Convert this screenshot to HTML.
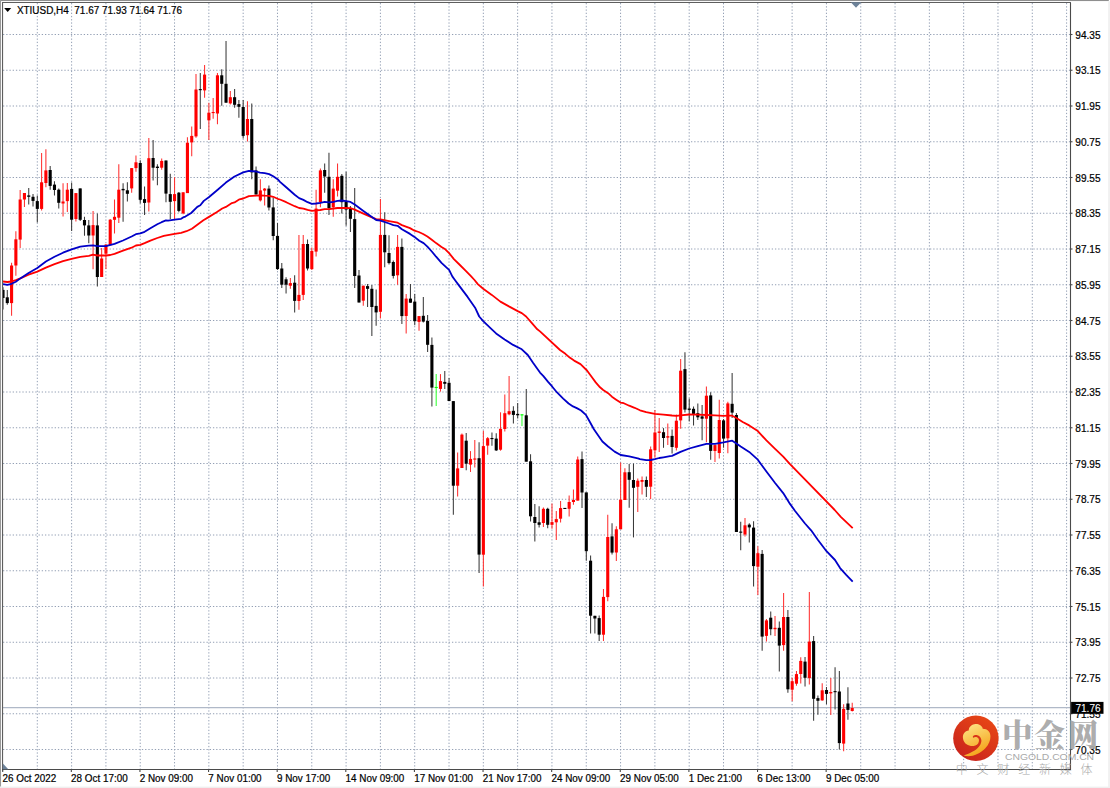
<!DOCTYPE html>
<html lang="en"><head><meta charset="utf-8"><title>XTIUSD,H4</title>
<style>html,body{margin:0;padding:0;background:#fff}body{width:1110px;height:788px;overflow:hidden;position:relative}svg{position:absolute;left:0;top:0;display:block}text{font-family:"Liberation Sans", sans-serif;font-size:10.1px;fill:#000;white-space:pre}.t{stroke:#000;stroke-width:.22px;paint-order:stroke}.cj{font-family:"Liberation Serif", "Noto Serif CJK SC", serif}.cs{font-family:"Liberation Sans", "Noto Sans CJK SC", sans-serif}</style></head><body>
<svg width="1110" height="788" viewBox="0 0 1110 788">
<rect x="0" y="0" width="1110" height="788" fill="#fff"/>
<g id="frame">
<rect x="0" y="0" width="1108.8" height="1.05" fill="#8f8f8f"/>
<rect x="0" y="0" width="1.05" height="786.7" fill="#999999"/>
<rect x="1108.1" y="1.3" width="1.9" height="786.7" fill="#f1f1f1"/>
<rect x="0" y="786.6" width="1110" height="1.4" fill="#efefef"/>
</g>
<g id="grid" stroke="#939fb4" stroke-width="1" stroke-dasharray="1.3 1.93" fill="none">
<path d="M37.30 3V769.5"/>
<path d="M71.61 3V769.5"/>
<path d="M105.92 3V769.5"/>
<path d="M140.23 3V769.5"/>
<path d="M174.54 3V769.5"/>
<path d="M208.85 3V769.5"/>
<path d="M243.16 3V769.5"/>
<path d="M277.47 3V769.5"/>
<path d="M311.78 3V769.5"/>
<path d="M346.09 3V769.5"/>
<path d="M380.40 3V769.5"/>
<path d="M414.71 3V769.5"/>
<path d="M449.02 3V769.5"/>
<path d="M483.33 3V769.5"/>
<path d="M517.64 3V769.5"/>
<path d="M551.95 3V769.5"/>
<path d="M586.26 3V769.5"/>
<path d="M620.57 3V769.5"/>
<path d="M654.88 3V769.5"/>
<path d="M689.19 3V769.5"/>
<path d="M723.50 3V769.5"/>
<path d="M757.81 3V769.5"/>
<path d="M792.12 3V769.5"/>
<path d="M826.43 3V769.5"/>
<path d="M860.74 3V769.5"/>
<path d="M895.05 3V769.5"/>
<path d="M929.36 3V769.5"/>
<path d="M963.67 3V769.5"/>
<path d="M997.98 3V769.5"/>
<path d="M1032.29 3V769.5"/>
<path d="M1066.60 3V769.5"/>
<path d="M3 34.50H1070.5"/>
<path d="M3 70.25H1070.5"/>
<path d="M3 106.00H1070.5"/>
<path d="M3 141.75H1070.5"/>
<path d="M3 177.50H1070.5"/>
<path d="M3 213.25H1070.5"/>
<path d="M3 249.00H1070.5"/>
<path d="M3 284.75H1070.5"/>
<path d="M3 320.50H1070.5"/>
<path d="M3 356.25H1070.5"/>
<path d="M3 392.00H1070.5"/>
<path d="M3 427.75H1070.5"/>
<path d="M3 463.50H1070.5"/>
<path d="M3 499.25H1070.5"/>
<path d="M3 535.00H1070.5"/>
<path d="M3 570.75H1070.5"/>
<path d="M3 606.50H1070.5"/>
<path d="M3 642.25H1070.5"/>
<path d="M3 678.00H1070.5"/>
<path d="M3 713.75H1070.5"/>
<path d="M3 749.50H1070.5"/>
</g>
<path d="M3 707.5H1070.5" stroke="#b0b9c8" stroke-width="1.25" fill="none"/>
<clipPath id="cp"><rect x="3" y="3" width="1067.5" height="766.5"/></clipPath>
<g id="candles" clip-path="url(#cp)">
<path d="M3.00 287.2V309.5" stroke="#3a3a3a" stroke-width="1.05"/>
<rect x="1.45" y="289.9" width="3.1" height="8.1" fill="#000000"/>
<path d="M7.29 289.9V304.7" stroke="#3a3a3a" stroke-width="1.05"/>
<rect x="5.74" y="297.3" width="3.1" height="5.8" fill="#000000"/>
<path d="M11.58 262.8V315.8" stroke="#ff3030" stroke-width="1.05"/>
<rect x="10.03" y="265.5" width="3.1" height="37.6" fill="#ff0000"/>
<path d="M15.87 231.2V275.7" stroke="#ff3030" stroke-width="1.05"/>
<rect x="14.32" y="239.3" width="3.1" height="26.2" fill="#ff0000"/>
<path d="M20.16 190.0V248.0" stroke="#ff3030" stroke-width="1.05"/>
<rect x="18.61" y="199.5" width="3.1" height="40.1" fill="#ff0000"/>
<path d="M24.45 193.0V206.9" stroke="#ff3030" stroke-width="1.05"/>
<rect x="22.89" y="193.0" width="3.1" height="6.5" fill="#ff0000"/>
<path d="M28.73 188.0V204.6" stroke="#3a3a3a" stroke-width="1.05"/>
<rect x="27.18" y="195.4" width="3.1" height="1.4" fill="#000000"/>
<path d="M33.02 194.1V206.5" stroke="#3a3a3a" stroke-width="1.05"/>
<rect x="31.47" y="196.8" width="3.1" height="4.1" fill="#000000"/>
<path d="M37.31 195.4V222.4" stroke="#3a3a3a" stroke-width="1.05"/>
<rect x="35.76" y="201.1" width="3.1" height="7.8" fill="#000000"/>
<path d="M41.60 153.1V210.5" stroke="#ff3030" stroke-width="1.05"/>
<rect x="40.05" y="182.3" width="3.1" height="26.6" fill="#ff0000"/>
<path d="M45.89 149.2V187.3" stroke="#ff3030" stroke-width="1.05"/>
<rect x="44.34" y="170.4" width="3.1" height="12.6" fill="#ff0000"/>
<path d="M50.18 166.1V189.7" stroke="#3a3a3a" stroke-width="1.05"/>
<rect x="48.63" y="170.0" width="3.1" height="15.9" fill="#000000"/>
<path d="M54.47 181.2V195.4" stroke="#3a3a3a" stroke-width="1.05"/>
<rect x="52.92" y="184.6" width="3.1" height="5.4" fill="#000000"/>
<path d="M58.76 188.4V208.6" stroke="#3a3a3a" stroke-width="1.05"/>
<rect x="57.21" y="189.7" width="3.1" height="13.1" fill="#000000"/>
<path d="M63.05 183.2V216.4" stroke="#ff3030" stroke-width="1.05"/>
<rect x="61.50" y="201.5" width="3.1" height="2.0" fill="#ff0000"/>
<path d="M67.33 183.0V211.9" stroke="#ff3030" stroke-width="1.05"/>
<rect x="65.78" y="189.7" width="3.1" height="11.4" fill="#ff0000"/>
<path d="M71.62 182.6V231.1" stroke="#3a3a3a" stroke-width="1.05"/>
<rect x="70.07" y="188.9" width="3.1" height="30.8" fill="#000000"/>
<path d="M75.91 193.1V221.5" stroke="#ff3030" stroke-width="1.05"/>
<rect x="74.36" y="193.1" width="3.1" height="25.9" fill="#ff0000"/>
<path d="M80.20 188.4V221.1" stroke="#3a3a3a" stroke-width="1.05"/>
<rect x="78.65" y="188.4" width="3.1" height="31.4" fill="#000000"/>
<path d="M84.49 216.8V235.8" stroke="#3a3a3a" stroke-width="1.05"/>
<rect x="82.94" y="220.0" width="3.1" height="5.4" fill="#000000"/>
<path d="M88.78 220.0V243.2" stroke="#3a3a3a" stroke-width="1.05"/>
<rect x="87.23" y="225.4" width="3.1" height="10.1" fill="#000000"/>
<path d="M93.07 210.9V269.3" stroke="#ff3030" stroke-width="1.05"/>
<rect x="91.52" y="225.1" width="3.1" height="10.4" fill="#ff0000"/>
<path d="M97.36 213.6V286.5" stroke="#3a3a3a" stroke-width="1.05"/>
<rect x="95.81" y="225.4" width="3.1" height="51.6" fill="#000000"/>
<path d="M101.65 248.0V277.0" stroke="#ff3030" stroke-width="1.05"/>
<rect x="100.10" y="258.5" width="3.1" height="18.5" fill="#ff0000"/>
<path d="M105.94 243.9V268.9" stroke="#ff3030" stroke-width="1.05"/>
<rect x="104.39" y="244.6" width="3.1" height="9.1" fill="#ff0000"/>
<path d="M110.22 219.1V245.3" stroke="#ff3030" stroke-width="1.05"/>
<rect x="108.67" y="219.7" width="3.1" height="25.5" fill="#ff0000"/>
<path d="M114.51 199.5V233.4" stroke="#ff3030" stroke-width="1.05"/>
<rect x="112.96" y="216.8" width="3.1" height="3.0" fill="#ff0000"/>
<path d="M118.80 164.3V223.1" stroke="#ff3030" stroke-width="1.05"/>
<rect x="117.25" y="189.7" width="3.1" height="28.0" fill="#ff0000"/>
<path d="M123.09 183.2V221.8" stroke="#3a3a3a" stroke-width="1.05"/>
<rect x="121.54" y="188.9" width="3.1" height="1.4" fill="#000000"/>
<path d="M127.38 182.2V201.5" stroke="#3a3a3a" stroke-width="1.05"/>
<rect x="125.83" y="190.3" width="3.1" height="3.5" fill="#000000"/>
<path d="M131.67 168.1V192.7" stroke="#ff3030" stroke-width="1.05"/>
<rect x="130.12" y="168.1" width="3.1" height="20.3" fill="#ff0000"/>
<path d="M135.96 155.4V171.8" stroke="#ff3030" stroke-width="1.05"/>
<rect x="134.41" y="162.3" width="3.1" height="5.8" fill="#ff0000"/>
<path d="M140.25 160.3V203.5" stroke="#3a3a3a" stroke-width="1.05"/>
<rect x="138.70" y="163.0" width="3.1" height="36.8" fill="#000000"/>
<path d="M144.54 186.6V215.0" stroke="#3a3a3a" stroke-width="1.05"/>
<rect x="142.99" y="199.1" width="3.1" height="3.8" fill="#000000"/>
<path d="M148.83 138.0V211.6" stroke="#ff3030" stroke-width="1.05"/>
<rect x="147.28" y="158.2" width="3.1" height="44.3" fill="#ff0000"/>
<path d="M153.11 140.0V180.5" stroke="#3a3a3a" stroke-width="1.05"/>
<rect x="151.56" y="158.0" width="3.1" height="9.7" fill="#000000"/>
<path d="M157.40 164.3V185.3" stroke="#3a3a3a" stroke-width="1.05"/>
<rect x="155.85" y="166.6" width="3.1" height="1.4" fill="#000000"/>
<path d="M161.69 158.5V169.7" stroke="#ff3030" stroke-width="1.05"/>
<rect x="160.14" y="160.9" width="3.1" height="6.8" fill="#ff0000"/>
<path d="M165.98 160.5V202.2" stroke="#3a3a3a" stroke-width="1.05"/>
<rect x="164.43" y="160.5" width="3.1" height="33.1" fill="#000000"/>
<path d="M170.27 173.8V219.1" stroke="#3a3a3a" stroke-width="1.05"/>
<rect x="168.72" y="194.1" width="3.1" height="7.7" fill="#000000"/>
<path d="M174.56 177.2V219.1" stroke="#ff3030" stroke-width="1.05"/>
<rect x="173.01" y="194.1" width="3.1" height="7.0" fill="#ff0000"/>
<path d="M178.85 192.0V212.3" stroke="#3a3a3a" stroke-width="1.05"/>
<rect x="177.30" y="192.7" width="3.1" height="18.2" fill="#000000"/>
<path d="M183.14 192.3V214.3" stroke="#ff3030" stroke-width="1.05"/>
<rect x="181.59" y="192.3" width="3.1" height="21.1" fill="#ff0000"/>
<path d="M187.43 137.3V193.1" stroke="#ff3030" stroke-width="1.05"/>
<rect x="185.88" y="142.7" width="3.1" height="50.4" fill="#ff0000"/>
<path d="M191.72 126.4V156.2" stroke="#ff3030" stroke-width="1.05"/>
<rect x="190.17" y="135.9" width="3.1" height="6.5" fill="#ff0000"/>
<path d="M196.00 73.9V137.7" stroke="#ff3030" stroke-width="1.05"/>
<rect x="194.45" y="89.5" width="3.1" height="46.9" fill="#ff0000"/>
<path d="M200.29 73.0V128.9" stroke="#3a3a3a" stroke-width="1.05"/>
<rect x="198.74" y="89.1" width="3.1" height="1.1" fill="#000000"/>
<path d="M204.58 64.9V97.8" stroke="#ff3030" stroke-width="1.05"/>
<rect x="203.03" y="74.6" width="3.1" height="15.8" fill="#ff0000"/>
<path d="M208.87 102.7V140.0" stroke="#ff3030" stroke-width="1.05"/>
<rect x="207.32" y="112.7" width="3.1" height="7.6" fill="#ff0000"/>
<path d="M213.16 98.0V118.8" stroke="#ff3030" stroke-width="1.05"/>
<rect x="211.61" y="112.0" width="3.1" height="1.1" fill="#ff0000"/>
<path d="M217.45 73.0V124.2" stroke="#ff3030" stroke-width="1.05"/>
<rect x="215.90" y="75.3" width="3.1" height="38.2" fill="#ff0000"/>
<path d="M221.74 69.2V105.7" stroke="#3a3a3a" stroke-width="1.05"/>
<rect x="220.19" y="75.3" width="3.1" height="8.5" fill="#000000"/>
<path d="M226.03 41.1V102.7" stroke="#3a3a3a" stroke-width="1.05"/>
<rect x="224.48" y="83.8" width="3.1" height="18.9" fill="#000000"/>
<path d="M230.32 91.1V104.6" stroke="#ff3030" stroke-width="1.05"/>
<rect x="228.77" y="97.2" width="3.1" height="6.2" fill="#ff0000"/>
<path d="M234.61 89.1V107.7" stroke="#3a3a3a" stroke-width="1.05"/>
<rect x="233.06" y="97.2" width="3.1" height="7.6" fill="#000000"/>
<path d="M238.89 100.0V117.8" stroke="#3a3a3a" stroke-width="1.05"/>
<rect x="237.34" y="104.1" width="3.1" height="2.7" fill="#000000"/>
<path d="M243.18 100.0V138.6" stroke="#3a3a3a" stroke-width="1.05"/>
<rect x="241.63" y="107.0" width="3.1" height="28.9" fill="#000000"/>
<path d="M247.47 101.2V141.4" stroke="#ff3030" stroke-width="1.05"/>
<rect x="245.92" y="119.0" width="3.1" height="16.2" fill="#ff0000"/>
<path d="M251.76 103.6V179.2" stroke="#3a3a3a" stroke-width="1.05"/>
<rect x="250.21" y="119.0" width="3.1" height="53.4" fill="#000000"/>
<path d="M256.05 166.4V194.5" stroke="#3a3a3a" stroke-width="1.05"/>
<rect x="254.50" y="170.4" width="3.1" height="24.1" fill="#000000"/>
<path d="M260.34 179.2V201.5" stroke="#ff3030" stroke-width="1.05"/>
<rect x="258.79" y="190.4" width="3.1" height="10.0" fill="#ff0000"/>
<path d="M264.63 188.0V205.5" stroke="#ff3030" stroke-width="1.05"/>
<rect x="263.08" y="188.6" width="3.1" height="2.0" fill="#ff0000"/>
<path d="M268.92 185.5V210.4" stroke="#3a3a3a" stroke-width="1.05"/>
<rect x="267.37" y="188.6" width="3.1" height="18.9" fill="#000000"/>
<path d="M273.21 197.8V240.2" stroke="#3a3a3a" stroke-width="1.05"/>
<rect x="271.66" y="207.4" width="3.1" height="28.6" fill="#000000"/>
<path d="M277.50 223.1V269.9" stroke="#3a3a3a" stroke-width="1.05"/>
<rect x="275.95" y="235.9" width="3.1" height="33.2" fill="#000000"/>
<path d="M281.78 263.1V288.1" stroke="#3a3a3a" stroke-width="1.05"/>
<rect x="280.23" y="268.5" width="3.1" height="16.2" fill="#000000"/>
<path d="M286.07 277.3V293.5" stroke="#3a3a3a" stroke-width="1.05"/>
<rect x="284.52" y="279.3" width="3.1" height="5.4" fill="#000000"/>
<path d="M290.36 278.0V288.8" stroke="#ff3030" stroke-width="1.05"/>
<rect x="288.81" y="283.1" width="3.1" height="2.6" fill="#ff0000"/>
<path d="M294.65 275.3V312.4" stroke="#3a3a3a" stroke-width="1.05"/>
<rect x="293.10" y="282.7" width="3.1" height="18.2" fill="#000000"/>
<path d="M298.94 234.9V309.7" stroke="#ff3030" stroke-width="1.05"/>
<rect x="297.39" y="294.9" width="3.1" height="6.1" fill="#ff0000"/>
<path d="M303.23 234.9V300.0" stroke="#ff3030" stroke-width="1.05"/>
<rect x="301.68" y="244.0" width="3.1" height="50.9" fill="#ff0000"/>
<path d="M307.52 239.6V270.5" stroke="#3a3a3a" stroke-width="1.05"/>
<rect x="305.97" y="244.0" width="3.1" height="24.5" fill="#000000"/>
<path d="M311.81 247.6V269.9" stroke="#ff3030" stroke-width="1.05"/>
<rect x="310.26" y="250.9" width="3.1" height="18.2" fill="#ff0000"/>
<path d="M316.10 189.7V256.4" stroke="#ff3030" stroke-width="1.05"/>
<rect x="314.55" y="208.6" width="3.1" height="43.0" fill="#ff0000"/>
<path d="M320.39 168.6V207.2" stroke="#ff3030" stroke-width="1.05"/>
<rect x="318.84" y="170.4" width="3.1" height="32.0" fill="#ff0000"/>
<path d="M324.67 163.6V192.7" stroke="#3a3a3a" stroke-width="1.05"/>
<rect x="323.12" y="170.0" width="3.1" height="6.5" fill="#000000"/>
<path d="M328.96 152.8V215.0" stroke="#3a3a3a" stroke-width="1.05"/>
<rect x="327.41" y="176.8" width="3.1" height="31.2" fill="#000000"/>
<path d="M333.25 179.2V216.8" stroke="#ff3030" stroke-width="1.05"/>
<rect x="331.70" y="188.6" width="3.1" height="18.5" fill="#ff0000"/>
<path d="M337.54 163.4V196.5" stroke="#ff3030" stroke-width="1.05"/>
<rect x="335.99" y="176.8" width="3.1" height="13.9" fill="#ff0000"/>
<path d="M341.83 174.1V213.6" stroke="#3a3a3a" stroke-width="1.05"/>
<rect x="340.28" y="175.8" width="3.1" height="26.4" fill="#000000"/>
<path d="M346.12 171.8V225.8" stroke="#3a3a3a" stroke-width="1.05"/>
<rect x="344.57" y="201.1" width="3.1" height="8.5" fill="#000000"/>
<path d="M350.41 205.9V231.9" stroke="#3a3a3a" stroke-width="1.05"/>
<rect x="348.86" y="208.9" width="3.1" height="9.9" fill="#000000"/>
<path d="M354.70 188.0V288.1" stroke="#3a3a3a" stroke-width="1.05"/>
<rect x="353.15" y="219.1" width="3.1" height="56.9" fill="#000000"/>
<path d="M358.99 270.1V302.6" stroke="#3a3a3a" stroke-width="1.05"/>
<rect x="357.44" y="275.5" width="3.1" height="27.0" fill="#000000"/>
<path d="M363.28 285.7V305.7" stroke="#ff3030" stroke-width="1.05"/>
<rect x="361.73" y="285.7" width="3.1" height="15.0" fill="#ff0000"/>
<path d="M367.56 284.1V307.0" stroke="#3a3a3a" stroke-width="1.05"/>
<rect x="366.01" y="286.1" width="3.1" height="2.7" fill="#000000"/>
<path d="M371.85 285.1V335.9" stroke="#3a3a3a" stroke-width="1.05"/>
<rect x="370.30" y="288.8" width="3.1" height="18.2" fill="#000000"/>
<path d="M376.14 289.5V325.7" stroke="#3a3a3a" stroke-width="1.05"/>
<rect x="374.59" y="305.9" width="3.1" height="6.5" fill="#000000"/>
<path d="M380.43 199.1V318.5" stroke="#ff3030" stroke-width="1.05"/>
<rect x="378.88" y="234.9" width="3.1" height="76.9" fill="#ff0000"/>
<path d="M384.72 212.3V267.2" stroke="#3a3a3a" stroke-width="1.05"/>
<rect x="383.17" y="234.9" width="3.1" height="17.4" fill="#000000"/>
<path d="M389.01 235.2V264.5" stroke="#3a3a3a" stroke-width="1.05"/>
<rect x="387.46" y="253.0" width="3.1" height="10.1" fill="#000000"/>
<path d="M393.30 260.4V278.6" stroke="#3a3a3a" stroke-width="1.05"/>
<rect x="391.75" y="262.0" width="3.1" height="13.9" fill="#000000"/>
<path d="M397.59 234.9V284.7" stroke="#ff3030" stroke-width="1.05"/>
<rect x="396.04" y="246.9" width="3.1" height="28.4" fill="#ff0000"/>
<path d="M401.88 238.5V323.9" stroke="#3a3a3a" stroke-width="1.05"/>
<rect x="400.33" y="246.9" width="3.1" height="69.2" fill="#000000"/>
<path d="M406.17 293.9V333.4" stroke="#ff3030" stroke-width="1.05"/>
<rect x="404.62" y="298.6" width="3.1" height="17.4" fill="#ff0000"/>
<path d="M410.45 284.1V302.7" stroke="#3a3a3a" stroke-width="1.05"/>
<rect x="408.90" y="298.6" width="3.1" height="4.1" fill="#000000"/>
<path d="M414.74 293.9V325.3" stroke="#3a3a3a" stroke-width="1.05"/>
<rect x="413.19" y="301.6" width="3.1" height="19.6" fill="#000000"/>
<path d="M419.03 316.1V330.7" stroke="#ff3030" stroke-width="1.05"/>
<rect x="417.48" y="316.1" width="3.1" height="5.8" fill="#ff0000"/>
<path d="M423.32 296.9V322.6" stroke="#3a3a3a" stroke-width="1.05"/>
<rect x="421.77" y="315.8" width="3.1" height="5.8" fill="#000000"/>
<path d="M427.61 314.9V351.9" stroke="#3a3a3a" stroke-width="1.05"/>
<rect x="426.06" y="320.9" width="3.1" height="23.9" fill="#000000"/>
<path d="M431.90 337.4V406.5" stroke="#3a3a3a" stroke-width="1.05"/>
<rect x="430.35" y="344.9" width="3.1" height="42.7" fill="#000000"/>
<path d="M436.19 374.1V406.1" stroke="#30ff30" stroke-width="1.05"/>
<rect x="434.64" y="386.9" width="3.1" height="1.1" fill="#00ff00"/>
<path d="M440.48 374.1V391.6" stroke="#ff3030" stroke-width="1.05"/>
<rect x="438.93" y="381.1" width="3.1" height="7.8" fill="#ff0000"/>
<path d="M444.77 371.1V388.9" stroke="#3a3a3a" stroke-width="1.05"/>
<rect x="443.22" y="381.9" width="3.1" height="1.9" fill="#000000"/>
<path d="M449.06 378.1V401.1" stroke="#3a3a3a" stroke-width="1.05"/>
<rect x="447.51" y="382.8" width="3.1" height="18.2" fill="#000000"/>
<path d="M453.34 401.1V514.7" stroke="#3a3a3a" stroke-width="1.05"/>
<rect x="451.79" y="401.1" width="3.1" height="84.6" fill="#000000"/>
<path d="M457.63 452.4V496.5" stroke="#ff3030" stroke-width="1.05"/>
<rect x="456.08" y="468.4" width="3.1" height="17.3" fill="#ff0000"/>
<path d="M461.92 433.5V468.0" stroke="#ff3030" stroke-width="1.05"/>
<rect x="460.37" y="434.6" width="3.1" height="33.4" fill="#ff0000"/>
<path d="M466.21 433.1V470.3" stroke="#3a3a3a" stroke-width="1.05"/>
<rect x="464.66" y="440.7" width="3.1" height="23.0" fill="#000000"/>
<path d="M470.50 451.1V472.0" stroke="#ff3030" stroke-width="1.05"/>
<rect x="468.95" y="458.9" width="3.1" height="5.7" fill="#ff0000"/>
<path d="M474.79 440.0V467.6" stroke="#ff3030" stroke-width="1.05"/>
<rect x="473.24" y="458.5" width="3.1" height="1.1" fill="#ff0000"/>
<path d="M479.08 442.3V573.0" stroke="#3a3a3a" stroke-width="1.05"/>
<rect x="477.53" y="458.2" width="3.1" height="96.4" fill="#000000"/>
<path d="M483.37 430.8V586.5" stroke="#ff3030" stroke-width="1.05"/>
<rect x="481.82" y="446.1" width="3.1" height="108.6" fill="#ff0000"/>
<path d="M487.66 436.9V454.7" stroke="#ff3030" stroke-width="1.05"/>
<rect x="486.11" y="438.2" width="3.1" height="7.4" fill="#ff0000"/>
<path d="M491.95 432.6V445.7" stroke="#3a3a3a" stroke-width="1.05"/>
<rect x="490.40" y="438.0" width="3.1" height="1.1" fill="#000000"/>
<path d="M496.23 433.2V451.1" stroke="#3a3a3a" stroke-width="1.05"/>
<rect x="494.68" y="438.6" width="3.1" height="11.8" fill="#000000"/>
<path d="M500.52 412.3V450.7" stroke="#ff3030" stroke-width="1.05"/>
<rect x="498.97" y="428.8" width="3.1" height="20.9" fill="#ff0000"/>
<path d="M504.81 394.6V431.5" stroke="#ff3030" stroke-width="1.05"/>
<rect x="503.26" y="413.2" width="3.1" height="15.8" fill="#ff0000"/>
<path d="M509.10 376.1V415.3" stroke="#ff3030" stroke-width="1.05"/>
<rect x="507.55" y="411.2" width="3.1" height="3.1" fill="#ff0000"/>
<path d="M513.39 406.2V423.4" stroke="#3a3a3a" stroke-width="1.05"/>
<rect x="511.84" y="410.8" width="3.1" height="4.1" fill="#000000"/>
<path d="M517.68 403.1V418.4" stroke="#3a3a3a" stroke-width="1.05"/>
<rect x="516.13" y="413.9" width="3.1" height="1.4" fill="#000000"/>
<path d="M521.97 414.3V426.1" stroke="#30ff30" stroke-width="1.05"/>
<rect x="520.42" y="414.3" width="3.1" height="1.1" fill="#00ff00"/>
<path d="M526.26 388.9V461.6" stroke="#3a3a3a" stroke-width="1.05"/>
<rect x="524.71" y="415.3" width="3.1" height="46.4" fill="#000000"/>
<path d="M530.55 454.2V521.4" stroke="#3a3a3a" stroke-width="1.05"/>
<rect x="529.00" y="461.3" width="3.1" height="55.0" fill="#000000"/>
<path d="M534.84 504.0V541.6" stroke="#3a3a3a" stroke-width="1.05"/>
<rect x="533.29" y="517.0" width="3.1" height="6.0" fill="#000000"/>
<path d="M539.12 506.2V527.5" stroke="#3a3a3a" stroke-width="1.05"/>
<rect x="537.58" y="522.3" width="3.1" height="2.5" fill="#000000"/>
<path d="M543.41 507.4V527.0" stroke="#ff3030" stroke-width="1.05"/>
<rect x="541.86" y="508.8" width="3.1" height="14.2" fill="#ff0000"/>
<path d="M547.70 507.8V528.2" stroke="#3a3a3a" stroke-width="1.05"/>
<rect x="546.15" y="508.8" width="3.1" height="16.0" fill="#000000"/>
<path d="M551.99 503.5V528.7" stroke="#ff3030" stroke-width="1.05"/>
<rect x="550.44" y="522.1" width="3.1" height="2.7" fill="#ff0000"/>
<path d="M556.28 511.1V540.1" stroke="#ff3030" stroke-width="1.05"/>
<rect x="554.73" y="519.1" width="3.1" height="3.2" fill="#ff0000"/>
<path d="M560.57 501.1V522.6" stroke="#ff3030" stroke-width="1.05"/>
<rect x="559.02" y="508.1" width="3.1" height="10.6" fill="#ff0000"/>
<path d="M564.86 507.9V509.0" stroke="#3a3a3a" stroke-width="1.05"/>
<rect x="563.31" y="507.9" width="3.1" height="1.1" fill="#000000"/>
<path d="M569.15 495.5V516.5" stroke="#ff3030" stroke-width="1.05"/>
<rect x="567.60" y="502.0" width="3.1" height="6.8" fill="#ff0000"/>
<path d="M573.44 489.5V504.7" stroke="#ff3030" stroke-width="1.05"/>
<rect x="571.89" y="500.0" width="3.1" height="2.0" fill="#ff0000"/>
<path d="M577.73 456.4V500.5" stroke="#ff3030" stroke-width="1.05"/>
<rect x="576.18" y="459.5" width="3.1" height="41.1" fill="#ff0000"/>
<path d="M582.01 451.4V508.1" stroke="#3a3a3a" stroke-width="1.05"/>
<rect x="580.47" y="459.1" width="3.1" height="33.4" fill="#000000"/>
<path d="M586.30 492.4V560.7" stroke="#3a3a3a" stroke-width="1.05"/>
<rect x="584.75" y="492.4" width="3.1" height="58.8" fill="#000000"/>
<path d="M590.59 555.5V633.6" stroke="#3a3a3a" stroke-width="1.05"/>
<rect x="589.04" y="560.7" width="3.1" height="55.0" fill="#000000"/>
<path d="M594.88 615.8V633.4" stroke="#3a3a3a" stroke-width="1.05"/>
<rect x="593.33" y="615.8" width="3.1" height="2.7" fill="#000000"/>
<path d="M599.17 615.4V640.9" stroke="#3a3a3a" stroke-width="1.05"/>
<rect x="597.62" y="618.1" width="3.1" height="16.6" fill="#000000"/>
<path d="M603.46 589.1V640.9" stroke="#ff3030" stroke-width="1.05"/>
<rect x="601.91" y="596.9" width="3.1" height="37.8" fill="#ff0000"/>
<path d="M607.75 514.7V601.2" stroke="#ff3030" stroke-width="1.05"/>
<rect x="606.20" y="537.0" width="3.1" height="60.1" fill="#ff0000"/>
<path d="M612.04 523.2V554.6" stroke="#3a3a3a" stroke-width="1.05"/>
<rect x="610.49" y="536.4" width="3.1" height="16.2" fill="#000000"/>
<path d="M616.33 526.2V560.9" stroke="#ff3030" stroke-width="1.05"/>
<rect x="614.78" y="529.3" width="3.1" height="23.2" fill="#ff0000"/>
<path d="M620.62 462.4V529.3" stroke="#ff3030" stroke-width="1.05"/>
<rect x="619.07" y="499.6" width="3.1" height="29.7" fill="#ff0000"/>
<path d="M624.90 468.2V500.0" stroke="#ff3030" stroke-width="1.05"/>
<rect x="623.36" y="472.3" width="3.1" height="27.7" fill="#ff0000"/>
<path d="M629.19 464.1V507.7" stroke="#3a3a3a" stroke-width="1.05"/>
<rect x="627.64" y="472.2" width="3.1" height="7.6" fill="#000000"/>
<path d="M633.48 463.5V537.4" stroke="#3a3a3a" stroke-width="1.05"/>
<rect x="631.93" y="480.0" width="3.1" height="7.8" fill="#000000"/>
<path d="M637.77 478.6V512.0" stroke="#ff3030" stroke-width="1.05"/>
<rect x="636.22" y="480.7" width="3.1" height="6.1" fill="#ff0000"/>
<path d="M642.06 476.4V494.5" stroke="#ff3030" stroke-width="1.05"/>
<rect x="640.51" y="480.0" width="3.1" height="1.8" fill="#ff0000"/>
<path d="M646.35 476.4V497.0" stroke="#3a3a3a" stroke-width="1.05"/>
<rect x="644.80" y="480.0" width="3.1" height="6.8" fill="#000000"/>
<path d="M650.64 446.6V499.1" stroke="#ff3030" stroke-width="1.05"/>
<rect x="649.09" y="449.3" width="3.1" height="37.4" fill="#ff0000"/>
<path d="M654.93 409.9V457.8" stroke="#ff3030" stroke-width="1.05"/>
<rect x="653.38" y="432.5" width="3.1" height="17.8" fill="#ff0000"/>
<path d="M659.22 418.0V451.9" stroke="#ff3030" stroke-width="1.05"/>
<rect x="657.67" y="431.5" width="3.1" height="1.4" fill="#ff0000"/>
<path d="M663.51 428.1V447.8" stroke="#3a3a3a" stroke-width="1.05"/>
<rect x="661.96" y="432.2" width="3.1" height="5.8" fill="#000000"/>
<path d="M667.79 423.4V445.1" stroke="#ff3030" stroke-width="1.05"/>
<rect x="666.25" y="436.2" width="3.1" height="1.4" fill="#ff0000"/>
<path d="M672.08 429.5V453.6" stroke="#3a3a3a" stroke-width="1.05"/>
<rect x="670.53" y="435.9" width="3.1" height="11.1" fill="#000000"/>
<path d="M676.37 414.6V450.5" stroke="#ff3030" stroke-width="1.05"/>
<rect x="674.82" y="420.7" width="3.1" height="27.1" fill="#ff0000"/>
<path d="M680.66 358.9V428.8" stroke="#ff3030" stroke-width="1.05"/>
<rect x="679.11" y="370.7" width="3.1" height="49.7" fill="#ff0000"/>
<path d="M684.95 352.2V412.6" stroke="#3a3a3a" stroke-width="1.05"/>
<rect x="683.40" y="369.1" width="3.1" height="40.5" fill="#000000"/>
<path d="M689.24 398.4V421.4" stroke="#3a3a3a" stroke-width="1.05"/>
<rect x="687.69" y="408.5" width="3.1" height="1.4" fill="#000000"/>
<path d="M693.53 406.5V425.4" stroke="#3a3a3a" stroke-width="1.05"/>
<rect x="691.98" y="408.8" width="3.1" height="5.1" fill="#000000"/>
<path d="M697.82 403.4V420.0" stroke="#3a3a3a" stroke-width="1.05"/>
<rect x="696.27" y="413.2" width="3.1" height="4.1" fill="#000000"/>
<path d="M702.11 404.9V440.3" stroke="#3a3a3a" stroke-width="1.05"/>
<rect x="700.56" y="416.4" width="3.1" height="2.3" fill="#000000"/>
<path d="M706.40 386.5V442.3" stroke="#ff3030" stroke-width="1.05"/>
<rect x="704.85" y="395.7" width="3.1" height="23.0" fill="#ff0000"/>
<path d="M710.68 392.3V459.7" stroke="#3a3a3a" stroke-width="1.05"/>
<rect x="709.13" y="395.4" width="3.1" height="55.5" fill="#000000"/>
<path d="M714.97 444.5V462.0" stroke="#ff3030" stroke-width="1.05"/>
<rect x="713.42" y="445.1" width="3.1" height="5.9" fill="#ff0000"/>
<path d="M719.26 399.7V458.6" stroke="#ff3030" stroke-width="1.05"/>
<rect x="717.71" y="420.0" width="3.1" height="33.0" fill="#ff0000"/>
<path d="M723.55 419.1V447.7" stroke="#3a3a3a" stroke-width="1.05"/>
<rect x="722.00" y="420.4" width="3.1" height="18.2" fill="#000000"/>
<path d="M727.84 401.8V453.2" stroke="#ff3030" stroke-width="1.05"/>
<rect x="726.29" y="403.4" width="3.1" height="34.9" fill="#ff0000"/>
<path d="M732.13 373.1V418.0" stroke="#3a3a3a" stroke-width="1.05"/>
<rect x="730.58" y="403.8" width="3.1" height="8.8" fill="#000000"/>
<path d="M736.42 413.0V532.0" stroke="#3a3a3a" stroke-width="1.05"/>
<rect x="734.87" y="415.0" width="3.1" height="117.0" fill="#000000"/>
<path d="M740.71 521.7V550.3" stroke="#3a3a3a" stroke-width="1.05"/>
<rect x="739.16" y="531.6" width="3.1" height="1.1" fill="#000000"/>
<path d="M745.00 518.1V536.4" stroke="#ff3030" stroke-width="1.05"/>
<rect x="743.45" y="525.3" width="3.1" height="9.2" fill="#ff0000"/>
<path d="M749.29 523.2V542.4" stroke="#3a3a3a" stroke-width="1.05"/>
<rect x="747.74" y="524.6" width="3.1" height="2.8" fill="#000000"/>
<path d="M753.57 521.3V586.4" stroke="#3a3a3a" stroke-width="1.05"/>
<rect x="752.02" y="527.6" width="3.1" height="38.5" fill="#000000"/>
<path d="M757.86 546.2V594.9" stroke="#ff3030" stroke-width="1.05"/>
<rect x="756.31" y="553.2" width="3.1" height="13.5" fill="#ff0000"/>
<path d="M762.15 550.1V650.8" stroke="#3a3a3a" stroke-width="1.05"/>
<rect x="760.60" y="553.9" width="3.1" height="82.7" fill="#000000"/>
<path d="M766.44 619.1V641.4" stroke="#ff3030" stroke-width="1.05"/>
<rect x="764.89" y="620.4" width="3.1" height="15.5" fill="#ff0000"/>
<path d="M770.73 611.4V635.3" stroke="#3a3a3a" stroke-width="1.05"/>
<rect x="769.18" y="617.7" width="3.1" height="11.5" fill="#000000"/>
<path d="M775.02 615.9V635.9" stroke="#ff3030" stroke-width="1.05"/>
<rect x="773.47" y="627.8" width="3.1" height="1.4" fill="#ff0000"/>
<path d="M779.31 621.4V671.5" stroke="#3a3a3a" stroke-width="1.05"/>
<rect x="777.76" y="627.8" width="3.1" height="17.8" fill="#000000"/>
<path d="M783.60 592.9V650.8" stroke="#ff3030" stroke-width="1.05"/>
<rect x="782.05" y="617.0" width="3.1" height="28.1" fill="#ff0000"/>
<path d="M787.89 610.1V692.7" stroke="#3a3a3a" stroke-width="1.05"/>
<rect x="786.34" y="617.0" width="3.1" height="72.3" fill="#000000"/>
<path d="M792.18 677.8V701.2" stroke="#ff3030" stroke-width="1.05"/>
<rect x="790.63" y="681.2" width="3.1" height="8.5" fill="#ff0000"/>
<path d="M796.46 671.1V685.7" stroke="#ff3030" stroke-width="1.05"/>
<rect x="794.91" y="674.1" width="3.1" height="9.6" fill="#ff0000"/>
<path d="M800.75 657.2V683.5" stroke="#ff3030" stroke-width="1.05"/>
<rect x="799.20" y="660.9" width="3.1" height="13.1" fill="#ff0000"/>
<path d="M805.04 656.9V686.6" stroke="#3a3a3a" stroke-width="1.05"/>
<rect x="803.49" y="661.6" width="3.1" height="16.2" fill="#000000"/>
<path d="M809.33 592.0V684.6" stroke="#ff3030" stroke-width="1.05"/>
<rect x="807.78" y="641.6" width="3.1" height="36.5" fill="#ff0000"/>
<path d="M813.62 635.9V720.8" stroke="#3a3a3a" stroke-width="1.05"/>
<rect x="812.07" y="641.1" width="3.1" height="57.7" fill="#000000"/>
<path d="M817.91 695.4V714.7" stroke="#3a3a3a" stroke-width="1.05"/>
<rect x="816.36" y="698.1" width="3.1" height="2.7" fill="#000000"/>
<path d="M822.20 683.2V700.8" stroke="#ff3030" stroke-width="1.05"/>
<rect x="820.65" y="690.3" width="3.1" height="10.1" fill="#ff0000"/>
<path d="M826.49 687.0V704.2" stroke="#3a3a3a" stroke-width="1.05"/>
<rect x="824.94" y="690.0" width="3.1" height="3.9" fill="#000000"/>
<path d="M830.78 678.1V715.0" stroke="#ff3030" stroke-width="1.05"/>
<rect x="829.23" y="692.0" width="3.1" height="1.4" fill="#ff0000"/>
<path d="M835.07 667.3V709.6" stroke="#3a3a3a" stroke-width="1.05"/>
<rect x="833.52" y="691.1" width="3.1" height="1.1" fill="#000000"/>
<path d="M839.35 671.1V749.5" stroke="#3a3a3a" stroke-width="1.05"/>
<rect x="837.80" y="691.5" width="3.1" height="51.6" fill="#000000"/>
<path d="M843.64 704.2V751.2" stroke="#ff3030" stroke-width="1.05"/>
<rect x="842.09" y="708.9" width="3.1" height="34.7" fill="#ff0000"/>
<path d="M847.93 687.2V719.7" stroke="#3a3a3a" stroke-width="1.05"/>
<rect x="846.38" y="703.5" width="3.1" height="6.4" fill="#000000"/>
<path d="M852.22 702.8V711.6" stroke="#ff3030" stroke-width="1.05"/>
<rect x="850.67" y="708.0" width="3.1" height="3.0" fill="#ff0000"/>
</g>
<path d="M3.0 281.5 L7.3 282.0 L11.6 281.5 L15.8 280.1 L20.3 278.4 L28.6 274.7 L37.3 271.6 L45.9 267.6 L54.5 264.2 L63.0 261.2 L71.6 258.8 L80.3 256.8 L88.8 255.8 L93.0 254.7 L97.3 255.5 L105.9 255.5 L110.3 255.0 L114.5 253.8 L123.0 250.7 L131.6 247.7 L135.9 245.5 L140.3 244.9 L144.6 243.2 L150.4 240.7 L157.3 238.0 L163.8 235.9 L174.6 233.9 L181.1 232.8 L186.5 231.2 L191.9 228.7 L197.3 224.7 L203.4 220.2 L209.0 216.9 L216.6 212.2 L222.2 208.5 L225.9 206.9 L231.9 203.1 L234.5 202.4 L239.5 199.3 L243.2 198.5 L248.9 196.1 L256.1 195.7 L260.0 195.4 L264.7 195.7 L269.1 195.8 L273.2 196.8 L277.6 198.8 L280.0 199.5 L286.2 202.2 L294.7 206.2 L299.1 208.0 L303.4 208.6 L307.6 209.9 L311.9 210.9 L316.1 210.3 L320.4 210.0 L324.7 209.2 L329.1 209.2 L333.4 208.5 L337.6 208.0 L341.9 207.8 L346.2 208.0 L350.5 208.2 L354.7 209.6 L363.4 213.6 L371.9 217.3 L376.2 219.1 L380.5 219.5 L389.1 221.1 L397.6 222.7 L401.9 225.1 L410.0 228.1 L414.5 230.7 L418.8 232.0 L423.1 234.0 L427.4 236.6 L431.8 239.8 L436.1 243.1 L441.5 246.9 L445.3 249.3 L449.1 253.1 L453.9 259.1 L459.9 265.0 L465.3 270.4 L470.7 275.8 L474.5 280.0 L477.8 284.1 L483.2 288.8 L491.8 294.9 L500.4 301.6 L508.9 306.4 L517.7 311.1 L521.8 313.1 L526.1 316.5 L531.9 323.2 L537.3 329.3 L540.0 331.4 L560.0 350.0 L565.4 353.8 L569.7 357.6 L574.1 360.6 L580.5 364.1 L587.0 370.5 L591.4 376.5 L595.7 382.4 L600.0 387.3 L603.2 390.0 L608.1 393.2 L611.9 396.7 L616.2 399.7 L620.5 402.6 L623.8 403.2 L629.2 405.7 L634.6 407.8 L640.0 410.3 L646.2 412.2 L654.9 413.9 L663.5 414.6 L672.0 415.5 L676.4 415.8 L680.5 415.3 L689.2 414.5 L697.8 414.7 L706.4 415.0 L715.0 415.4 L723.5 415.9 L727.8 415.7 L732.2 415.7 L736.4 418.0 L742.7 422.0 L749.2 425.4 L757.8 431.1 L766.4 440.4 L775.1 448.8 L783.2 456.6 L790.0 464.1 L834.7 510.0 L840.8 516.8 L852.7 528.2" stroke="#ff0000" stroke-width="1.8" fill="none" stroke-linejoin="round" clip-path="url(#cp)"/>
<path d="M3.0 284.2 L7.3 284.9 L11.6 283.8 L15.8 281.8 L20.3 278.4 L28.6 273.0 L37.3 268.0 L45.9 261.5 L54.5 256.8 L63.0 252.7 L71.6 249.3 L80.3 246.6 L88.8 245.7 L93.0 245.3 L97.3 246.2 L105.9 246.2 L114.5 243.9 L123.0 240.5 L131.6 236.5 L135.9 234.2 L140.3 233.4 L144.6 231.8 L150.4 228.2 L157.3 224.2 L161.6 222.2 L165.9 220.4 L168.1 220.7 L174.6 219.7 L181.1 218.8 L183.1 217.4 L185.4 216.6 L191.2 213.0 L197.3 206.9 L200.3 205.3 L203.8 200.9 L208.8 197.2 L217.4 190.0 L225.9 182.6 L234.5 176.5 L243.2 172.4 L248.9 170.8 L256.1 171.5 L260.0 172.7 L264.7 173.1 L269.1 174.1 L273.2 176.3 L277.6 179.2 L280.0 181.9 L286.2 187.3 L294.7 194.7 L299.1 198.1 L303.4 199.9 L307.6 202.2 L311.9 203.8 L316.1 203.5 L320.4 202.8 L324.7 201.9 L329.1 202.4 L333.4 201.8 L337.6 200.8 L341.9 200.5 L346.2 201.2 L350.5 201.9 L354.7 204.6 L363.4 210.9 L371.9 217.0 L376.2 220.0 L380.5 220.7 L389.1 223.5 L393.4 225.1 L397.6 225.8 L401.9 229.2 L410.0 233.9 L414.5 236.9 L419.3 240.7 L423.6 243.1 L427.4 246.6 L431.8 251.5 L436.1 256.7 L441.5 262.8 L445.8 266.8 L449.1 269.9 L452.3 276.4 L454.9 280.0 L458.9 285.4 L467.6 296.9 L475.1 307.7 L479.2 316.5 L483.2 321.2 L491.8 329.3 L496.1 333.4 L504.6 339.5 L513.1 344.9 L521.8 349.3 L527.8 355.0 L533.2 363.1 L540.0 372.6 L543.2 375.9 L548.1 381.9 L551.9 386.2 L556.8 392.2 L563.2 398.6 L568.6 403.5 L573.0 406.4 L577.3 408.4 L581.1 410.5 L585.9 414.9 L589.2 420.8 L593.9 429.2 L597.7 434.7 L602.4 441.5 L607.8 446.2 L614.6 451.6 L620.7 455.0 L629.2 456.4 L637.8 458.4 L640.0 459.1 L646.3 460.1 L650.6 460.0 L654.9 459.1 L659.2 458.0 L663.5 457.3 L670.0 456.1 L672.0 455.9 L680.5 451.9 L689.2 448.5 L697.8 446.1 L706.4 443.8 L715.0 443.8 L723.5 442.4 L732.2 440.7 L736.4 443.4 L740.7 446.5 L749.2 451.9 L757.8 459.7 L766.4 471.5 L775.1 483.0 L783.2 493.1 L790.0 503.9 L794.9 510.7 L805.0 523.5 L811.1 530.3 L817.8 539.7 L826.5 551.2 L835.0 560.0 L840.1 568.1 L846.2 574.9 L852.7 581.6" stroke="#0000c8" stroke-width="1.8" fill="none" stroke-linejoin="round" clip-path="url(#cp)"/>
<g id="axes" stroke="#4a4a4a" stroke-width="1.1" fill="none">
<path d="M1070.5 2.5V770.0"/>
<path d="M2 2.5H1071.0" stroke="#5e5e5e"/>
<path d="M2.55 2V770.7" stroke="#5e5e5e"/>
<path d="M2 769.5H1071.0"/>
<path d="M1070.5 34.50h2"/>
<path d="M1070.5 70.25h2"/>
<path d="M1070.5 106.00h2"/>
<path d="M1070.5 141.75h2"/>
<path d="M1070.5 177.50h2"/>
<path d="M1070.5 213.25h2"/>
<path d="M1070.5 249.00h2"/>
<path d="M1070.5 284.75h2"/>
<path d="M1070.5 320.50h2"/>
<path d="M1070.5 356.25h2"/>
<path d="M1070.5 392.00h2"/>
<path d="M1070.5 427.75h2"/>
<path d="M1070.5 463.50h2"/>
<path d="M1070.5 499.25h2"/>
<path d="M1070.5 535.00h2"/>
<path d="M1070.5 570.75h2"/>
<path d="M1070.5 606.50h2"/>
<path d="M1070.5 642.25h2"/>
<path d="M1070.5 678.00h2"/>
<path d="M1070.5 713.75h2"/>
<path d="M1070.5 749.50h2"/>
<path d="M2.70 769.5v2.5"/>
<path d="M71.32 769.5v2.5"/>
<path d="M139.94 769.5v2.5"/>
<path d="M208.56 769.5v2.5"/>
<path d="M277.18 769.5v2.5"/>
<path d="M345.80 769.5v2.5"/>
<path d="M414.42 769.5v2.5"/>
<path d="M483.04 769.5v2.5"/>
<path d="M551.66 769.5v2.5"/>
<path d="M620.28 769.5v2.5"/>
<path d="M688.90 769.5v2.5"/>
<path d="M757.52 769.5v2.5"/>
<path d="M826.14 769.5v2.5"/>
</g>
<path d="M850.8 2.2h10.4l-5.2 5.5z" fill="#6d8299"/>
<path d="M2.9 763.6l5.4 5.6H2.9z" fill="#6d8299"/>
<path d="M4.2 8h7l-3.5 3.9z" fill="#000"/>
<text class="t" transform="translate(16.90 14.00) scale(0.934 1)" style="font-size:10.65px" xml:space="preserve">XTIUSD,H4  71.67 71.93 71.64 71.76</text>
<text class="t" transform="translate(1075.30 38.60) scale(0.948 1)" style="font-size:10.65px" xml:space="preserve">94.35</text>
<text class="t" transform="translate(1075.30 74.35) scale(0.948 1)" style="font-size:10.65px" xml:space="preserve">93.15</text>
<text class="t" transform="translate(1075.30 110.10) scale(0.948 1)" style="font-size:10.65px" xml:space="preserve">91.95</text>
<text class="t" transform="translate(1075.30 145.85) scale(0.948 1)" style="font-size:10.65px" xml:space="preserve">90.75</text>
<text class="t" transform="translate(1075.30 181.60) scale(0.948 1)" style="font-size:10.65px" xml:space="preserve">89.55</text>
<text class="t" transform="translate(1075.30 217.35) scale(0.948 1)" style="font-size:10.65px" xml:space="preserve">88.35</text>
<text class="t" transform="translate(1075.30 253.10) scale(0.948 1)" style="font-size:10.65px" xml:space="preserve">87.15</text>
<text class="t" transform="translate(1075.30 288.85) scale(0.948 1)" style="font-size:10.65px" xml:space="preserve">85.95</text>
<text class="t" transform="translate(1075.30 324.60) scale(0.948 1)" style="font-size:10.65px" xml:space="preserve">84.75</text>
<text class="t" transform="translate(1075.30 360.35) scale(0.948 1)" style="font-size:10.65px" xml:space="preserve">83.55</text>
<text class="t" transform="translate(1075.30 396.10) scale(0.948 1)" style="font-size:10.65px" xml:space="preserve">82.35</text>
<text class="t" transform="translate(1075.30 431.85) scale(0.948 1)" style="font-size:10.65px" xml:space="preserve">81.15</text>
<text class="t" transform="translate(1075.30 467.60) scale(0.948 1)" style="font-size:10.65px" xml:space="preserve">79.95</text>
<text class="t" transform="translate(1075.30 503.35) scale(0.948 1)" style="font-size:10.65px" xml:space="preserve">78.75</text>
<text class="t" transform="translate(1075.30 539.10) scale(0.948 1)" style="font-size:10.65px" xml:space="preserve">77.55</text>
<text class="t" transform="translate(1075.30 574.85) scale(0.948 1)" style="font-size:10.65px" xml:space="preserve">76.35</text>
<text class="t" transform="translate(1075.30 610.60) scale(0.948 1)" style="font-size:10.65px" xml:space="preserve">75.15</text>
<text class="t" transform="translate(1075.30 646.35) scale(0.948 1)" style="font-size:10.65px" xml:space="preserve">73.95</text>
<text class="t" transform="translate(1075.30 682.10) scale(0.948 1)" style="font-size:10.65px" xml:space="preserve">72.75</text>
<text class="t" transform="translate(1075.30 717.85) scale(0.948 1)" style="font-size:10.65px" xml:space="preserve">71.55</text>
<text class="t" transform="translate(1075.30 753.60) scale(0.948 1)" style="font-size:10.65px" xml:space="preserve">70.35</text>
<text class="t" transform="translate(2.50 781.70) scale(0.928 1)" style="font-size:10.65px" xml:space="preserve">26 Oct 2022</text>
<text class="t" transform="translate(71.12 781.70) scale(0.928 1)" style="font-size:10.65px" xml:space="preserve">28 Oct 17:00</text>
<text class="t" transform="translate(139.74 781.70) scale(0.928 1)" style="font-size:10.65px" xml:space="preserve">2 Nov 09:00</text>
<text class="t" transform="translate(208.36 781.70) scale(0.928 1)" style="font-size:10.65px" xml:space="preserve">7 Nov 01:00</text>
<text class="t" transform="translate(276.98 781.70) scale(0.928 1)" style="font-size:10.65px" xml:space="preserve">9 Nov 17:00</text>
<text class="t" transform="translate(345.60 781.70) scale(0.928 1)" style="font-size:10.65px" xml:space="preserve">14 Nov 09:00</text>
<text class="t" transform="translate(414.22 781.70) scale(0.928 1)" style="font-size:10.65px" xml:space="preserve">17 Nov 01:00</text>
<text class="t" transform="translate(482.84 781.70) scale(0.928 1)" style="font-size:10.65px" xml:space="preserve">21 Nov 17:00</text>
<text class="t" transform="translate(551.46 781.70) scale(0.928 1)" style="font-size:10.65px" xml:space="preserve">24 Nov 09:00</text>
<text class="t" transform="translate(620.08 781.70) scale(0.928 1)" style="font-size:10.65px" xml:space="preserve">29 Nov 05:00</text>
<text class="t" transform="translate(688.70 781.70) scale(0.928 1)" style="font-size:10.65px" xml:space="preserve">1 Dec 21:00</text>
<text class="t" transform="translate(757.32 781.70) scale(0.928 1)" style="font-size:10.65px" xml:space="preserve">6 Dec 13:00</text>
<text class="t" transform="translate(825.94 781.70) scale(0.928 1)" style="font-size:10.65px" xml:space="preserve">9 Dec 05:00</text>
<rect x="1071.1" y="701.9" width="32.4" height="11.9" fill="#000"/>
<text class="t" transform="translate(1075.40 711.60) scale(0.948 1)" style="font-size:10.65px;fill:#fff;stroke:#fff;stroke-width:.08px" xml:space="preserve">71.76</text>
<defs><linearGradient id="lg" x1="0.2" y1="1" x2="0.9" y2="0"><stop offset="0" stop-color="#c8221c"/><stop offset="1" stop-color="#ea4a16"/></linearGradient><linearGradient id="yg" x1="0" y1="0" x2="0.4" y2="1"><stop offset="0" stop-color="#fee88c"/><stop offset="1" stop-color="#f5a51c"/></linearGradient></defs>
<g id="wm">
<circle cx="975.9" cy="738.2" r="22.7" fill="url(#lg)"/>
<path transform="translate(945 708) scale(0.0761)" fill="url(#yg)" d="M245 625C330 655 450 615 530 530C575 480 600 420 597 370C597 312 560 274 496 272C488 226 432 203 385 213C342 222 312 252 312 296C262 300 230 345 236 395C240 450 285 495 340 498C380 500 415 490 435 465C455 435 450 395 420 385C400 378 385 385 372 392C360 385 365 365 385 358C430 345 475 375 478 425C480 475 445 525 390 560C340 590 290 610 245 625Z"/>
<text class="cj" x="1002 1034.2 1067.8" y="745.9" style="font-size:30.5px;font-weight:900;fill:#a8a8a8;fill-opacity:.96">中金网</text>
<text x="1005" y="759.8" style="font-size:9.5px;fill:#a9a9a9" textLength="89.1" lengthAdjust="spacingAndGlyphs">CNGOLD.COM.CN</text>
<text class="cs" x="955.8 976.6 997.4 1018.2 1039.0 1059.8 1080.6" y="774.4" style="font-size:12px;fill:#a9a9a9;font-weight:300">中文财经新媒体</text>
</g>
</svg></body></html>
